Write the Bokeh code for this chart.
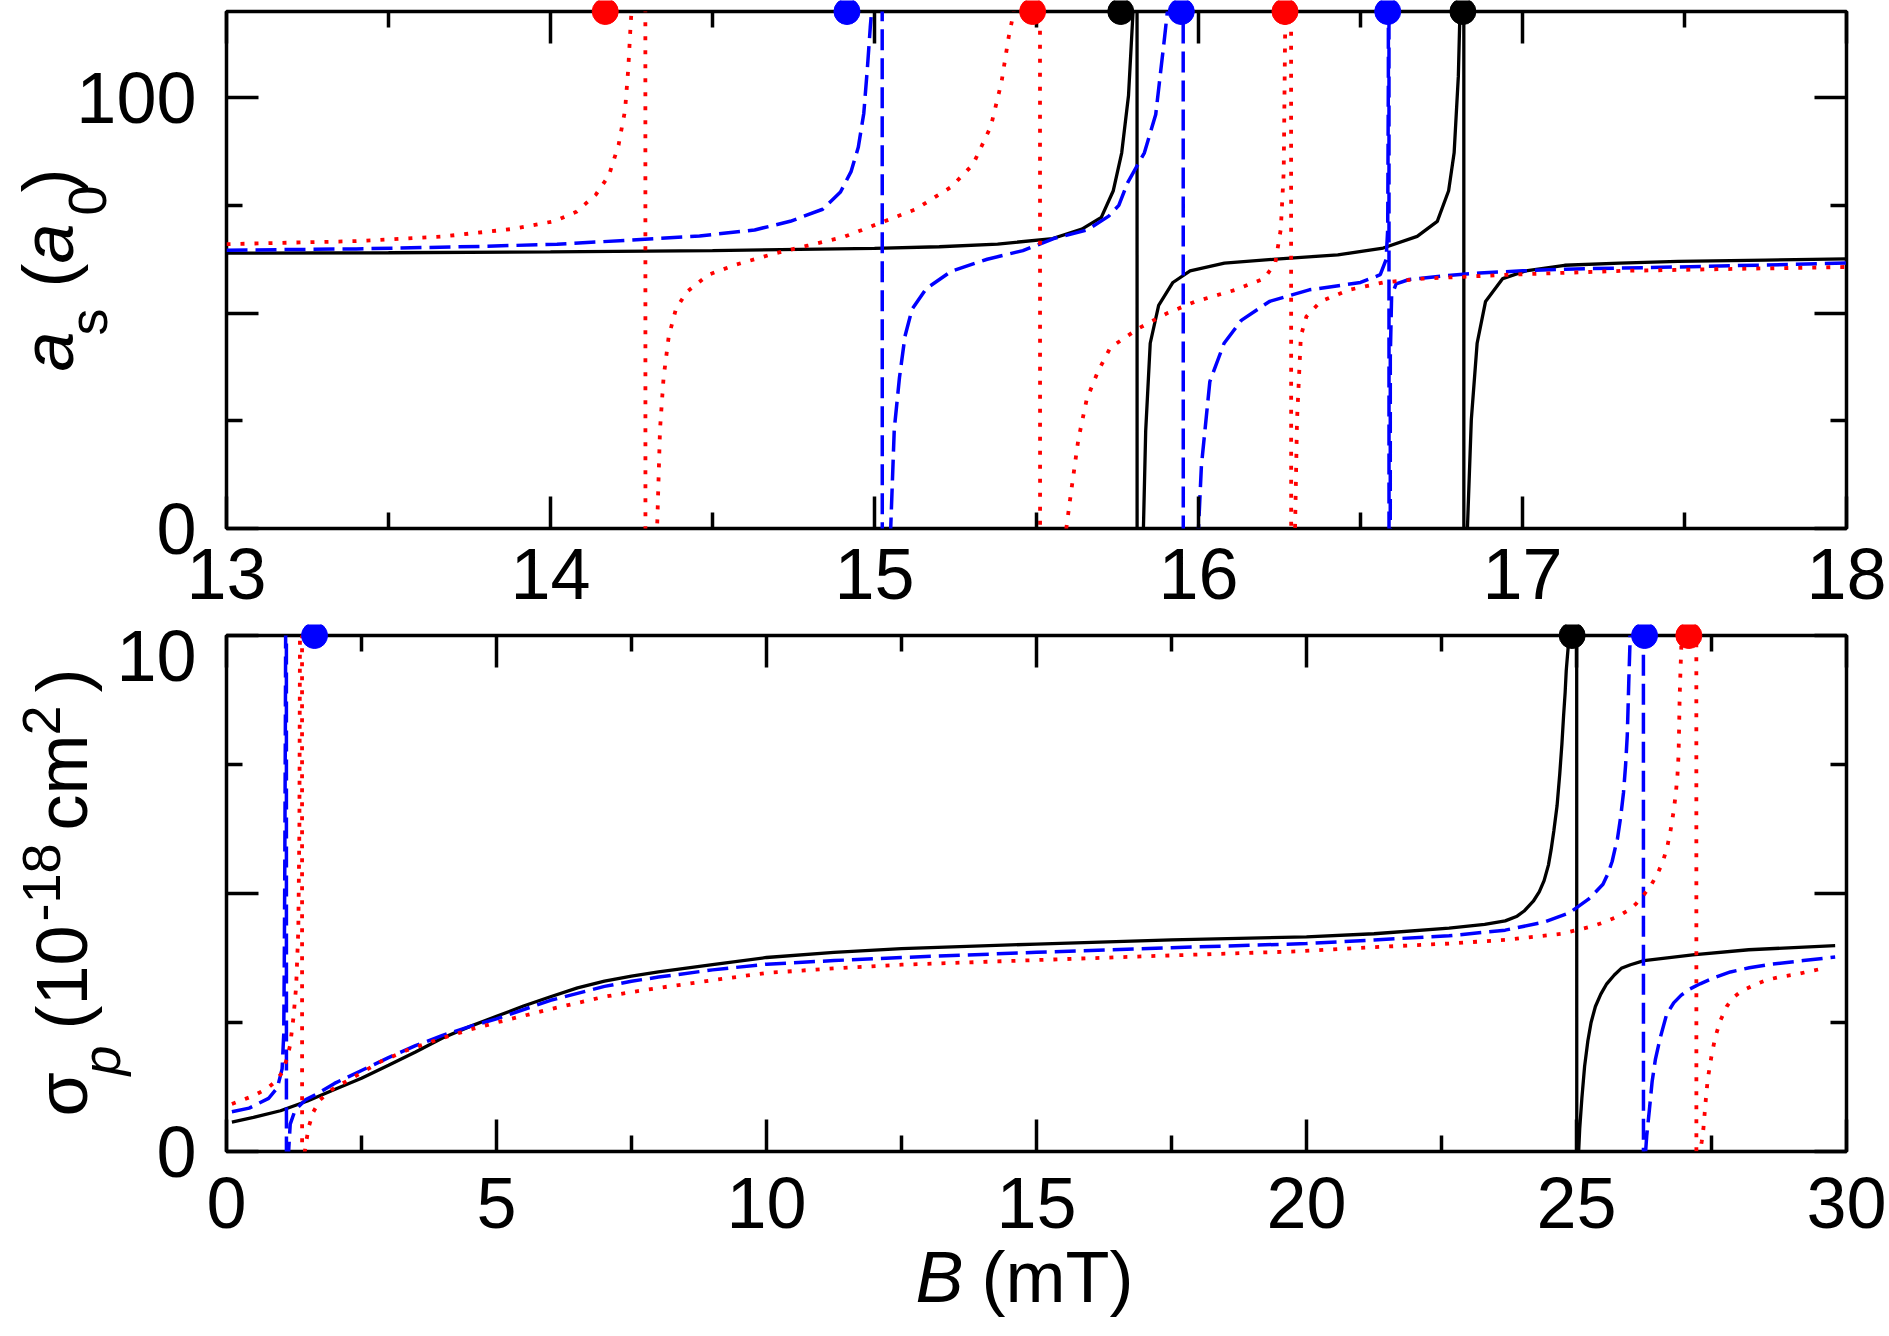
import math
import json
from bokeh.plotting import figure
from bokeh.models import FixedTicker, LinearAxis, Label, CustomJSTickFormatter, ColumnDataSource, GridBox
from bokeh.embed import file_html
from bokeh.resources import INLINE

# ---------------- data ----------------
# top panel: a_s (a0) versus B (mT); +-1000 marks the divergence at each resonance
top_black_B = [13.0, 13.5, 14.0, 14.5, 15.0, 15.2, 15.38, 15.55, 15.64, 15.70, 15.737, 15.763, 15.784, 15.798,
               15.809, 15.812, 15.83, 15.837, 15.851, 15.877, 15.921, 15.974, 16.08, 16.25, 16.43, 16.57, 16.675,
               16.737, 16.772, 16.789, 16.802, 16.807, 16.818, 16.820, 16.83, 16.842, 16.86, 16.886, 16.939, 17.01,
               17.13, 17.3, 17.48, 17.75, 18.0]
top_black_a = [63.9, 64.0, 64.2, 64.5, 65.0, 65.4, 66.0, 67.3, 69.5, 72.2, 78.4, 87.2, 100.5, 120.0,
               1000, -1000, 0.0, 22.6, 43.0, 51.8, 57.1, 59.8, 61.6, 62.6, 63.5, 65.1, 67.8,
               71.3, 78.4, 87.2, 105.0, 120.0, 1000, -1000, 0.0, 25.2, 43.0, 52.7, 58.0, 59.8,
               61.1, 61.6, 62.0, 62.3, 62.6]

top_blue_B = [13.0, 13.4, 13.8, 14.02, 14.24, 14.46, 14.63, 14.74, 14.84, 14.895, 14.928, 14.95, 14.967, 14.978,
              14.987, 14.991, 15.022, 15.026, 15.05, 15.061, 15.077, 15.094, 15.116, 15.16, 15.237, 15.348, 15.458,
              15.553, 15.657, 15.723, 15.754, 15.781, 15.833, 15.868, 15.895, 15.904, 15.951, 15.955, 16.0, 16.009,
              16.035, 16.079, 16.132, 16.219, 16.342, 16.5, 16.561, 16.579, 16.584, 16.586, 16.587, 16.589, 16.592,
              16.596, 16.61, 16.65, 16.75, 16.868, 17.0, 17.132, 17.482, 18.0]
top_blue_a = [64.6, 64.9, 65.5, 66.0, 66.9, 67.9, 69.3, 71.3, 74.1, 78.1, 82.9, 88.5, 96.4, 106.8,
              116.4, 120.0, 1000, -1000, 0.0, 23.0, 35.0, 44.6, 50.9, 55.7, 59.7, 62.5, 64.5,
              67.3, 69.3, 72.5, 75.0, 80.2, 87.2, 96.1, 113.8, 120.0, 1000, -1000, 0.0, 14.6,
              34.1, 43.0, 48.3, 52.7, 55.4, 57.1, 58.9, 62.4, 69.5, 105.0, 1000, -1000, 40.0,
              54.0, 56.8, 57.8, 58.6, 59.3, 59.8, 60.2, 60.7, 61.6]

top_red_B = [13.0, 13.4, 13.67, 13.88, 14.01, 14.08, 14.14, 14.18, 14.21, 14.23, 14.24, 14.247, 14.25, 14.291,
             14.295, 14.329, 14.338, 14.349, 14.365, 14.387, 14.42, 14.487, 14.575, 14.685, 14.796, 14.906, 15.017,
             15.127, 15.237, 15.304, 15.359, 15.392, 15.414, 15.43, 15.509, 15.513, 15.592, 15.605, 15.629, 15.655,
             15.69, 15.728, 15.816, 15.904, 15.991, 16.114, 16.202, 16.237, 16.254, 16.263, 16.266, 16.268, 16.284,
             16.288, 16.298, 16.304, 16.316, 16.333, 16.377, 16.465, 16.57, 16.693, 16.956, 17.307, 18.0]
top_red_a = [66.0, 66.7, 67.8, 69.5, 71.3, 73.5, 77.5, 81.9, 89.0, 97.0, 106.7, 116.5, 120.0, 1000,
             -1000, 0.0, 23.0, 35.0, 44.6, 50.9, 54.9, 58.9, 61.3, 63.7, 65.7, 67.7, 70.9,
             74.1, 79.3, 84.5, 93.3, 103.6, 114.0, 120.0, 1000, -1000, 0.0, 7.5, 20.6, 30.0,
             36.5, 42.0, 46.5, 50.0, 52.7, 55.4, 58.0, 61.6, 69.5, 82.8, 105.0, 120.0, 1000,
             -1000, 0.0, 25.0, 44.7, 49.2, 52.7, 55.4, 57.1, 58.0, 58.9, 59.8, 60.7]

top_dots_B = [14.169, 14.915, 15.488, 15.76, 15.947, 16.267, 16.584, 16.816]
top_dots_color = ["#ff0000", "#0000ff", "#ff0000", "#000000", "#0000ff", "#ff0000", "#0000ff", "#000000"]

# bottom panel: sigma_p (1e-18 cm^2) versus B (mT); +-100 marks the divergence
bot_black_B = [0.1, 0.5, 1.0, 1.5, 2.0, 2.5, 3.0, 3.5, 4.0, 4.5, 5.0, 5.5, 6.0, 6.5, 7.0, 7.5, 8.0, 9.0, 10.0,
               11.25, 12.5, 15.0, 17.5, 20.0, 21.25, 22.64, 23.3, 23.68, 23.9, 24.03, 24.2, 24.31, 24.4, 24.48,
               24.53, 24.58, 24.64, 24.69, 24.73, 24.76, 24.79, 24.81, 24.84, 24.86, 24.99, 25.02, 25.04, 25.06,
               25.1, 25.15, 25.21, 25.27, 25.35, 25.45, 25.56, 25.7, 25.83, 26.0, 26.25, 27.15, 28.19, 29.79]
bot_black_s = [0.57, 0.66, 0.79, 0.98, 1.2, 1.42, 1.67, 1.93, 2.2, 2.42, 2.62, 2.82, 3.0, 3.17, 3.3, 3.4, 3.48,
               3.62, 3.76, 3.86, 3.93, 4.02, 4.1, 4.16, 4.22, 4.33, 4.4, 4.47, 4.56, 4.66, 4.85, 5.03, 5.25, 5.55,
               5.85, 6.21, 6.7, 7.32, 7.9, 8.43, 8.9, 9.32, 9.7, 9.95, 100, -100, 0.0, 0.45,
               1.04, 1.65, 2.14, 2.5, 2.81, 3.05, 3.25, 3.42, 3.55, 3.62, 3.7, 3.81, 3.91, 3.99]

bot_blue_B = [0.1, 0.42, 0.78, 0.94, 1.03, 1.06, 1.07, 1.08, 1.09, 1.095, 1.10, 1.12, 1.15, 1.18, 1.27, 1.46,
              1.7, 2.0, 2.5, 3.0, 3.5, 4.0, 4.5, 5.0, 6.0, 7.0, 7.5, 8.0, 9.0, 10.0, 11.25, 12.5, 15.0, 17.5, 20.0,
              21.25, 22.64, 23.68, 24.38, 24.86, 25.21, 25.3, 25.49, 25.58, 25.66, 25.71, 25.76, 25.82, 25.87,
              25.91, 25.94, 25.955, 25.97, 25.99, 26.23, 26.25, 26.28, 26.3, 26.35, 26.4, 26.46, 26.55, 26.67,
              26.8, 26.94, 27.1, 27.29, 27.55, 27.85, 28.2, 28.54, 29.2, 29.79]
bot_blue_s = [0.77, 0.84, 1.03, 1.23, 1.6, 2.27, 3.6, 5.6, 8.27, 9.97, 100, -100, 0.0, 0.53, 0.8, 1.0,
              1.13, 1.32, 1.57, 1.82, 2.05, 2.25, 2.42, 2.57, 2.93, 3.2, 3.3, 3.38, 3.52, 3.63, 3.7, 3.76, 3.86,
              3.95, 4.03, 4.1, 4.18, 4.29, 4.44, 4.62, 4.88, 4.97, 5.18, 5.38, 5.62, 5.85, 6.07, 6.5, 6.95,
              7.5, 8.06, 8.6, 9.17, 9.84, 100, -100, 0.0, 0.3, 0.81, 1.35, 1.78, 2.2, 2.66,
              2.88, 3.03, 3.15, 3.25, 3.37, 3.48, 3.56, 3.62, 3.7, 3.77]

bot_red_B = [0.1, 0.5, 0.75, 0.9, 1.03, 1.12, 1.18, 1.24, 1.29, 1.33, 1.35, 1.36, 1.39, 1.41, 1.45, 1.52, 1.61,
             1.73, 1.95, 2.32, 2.87, 3.36, 4.0, 4.5, 5.0, 6.0, 7.0, 7.5, 8.0, 9.0, 10.0, 11.25, 12.5, 15.0, 17.5,
             19.86, 21.25, 22.64, 23.68, 24.72, 25.28, 25.5, 25.76, 26.0, 26.11, 26.25, 26.39, 26.5, 26.6, 26.68,
             26.74, 26.8, 26.84, 26.87, 26.89, 26.9, 26.91, 26.925, 26.94, 27.21, 27.23, 27.29, 27.32, 27.35,
             27.39, 27.43, 27.5, 27.57, 27.67, 27.78, 27.9, 28.06, 28.3, 28.54, 28.8, 29.1, 29.35, 29.58]
bot_red_s = [0.92, 1.08, 1.22, 1.35, 1.53, 1.8, 2.07, 2.6, 3.2, 4.3, 6.3, 9.9, 100, -100, 0.0, 0.47, 0.77,
             1.0, 1.2, 1.42, 1.75, 1.97, 2.2, 2.36, 2.5, 2.76, 3.0, 3.09, 3.17, 3.32, 3.46, 3.55, 3.62, 3.71, 3.8,
             3.88, 3.96, 4.03, 4.1, 4.22, 4.36, 4.44, 4.55, 4.7, 4.81, 4.98, 5.18, 5.38, 5.62, 5.9,
             6.21, 6.6, 6.95, 7.3, 7.69, 8.2, 8.8, 9.3, 9.76, 100, -100, 0.0, 0.2, 0.44,
             0.95, 1.4, 1.85, 2.22, 2.55, 2.81, 2.98, 3.11, 3.23, 3.33, 3.39, 3.44, 3.5, 3.55]

bot_dots_B = [1.63, 24.92, 26.26, 27.08]
bot_dots_color = ["#0000ff", "#000000", "#0000ff", "#ff0000"]

# axes / ticks
top_xticks = [13, 14, 15, 16, 17, 18]
top_xminor = [13.5, 14.5, 15.5, 16.5, 17.5]
top_yticks = [0, 50, 100]
top_yminor = [25, 75]
top_ylabels = {"0": "0", "100": "100"}
bot_xticks = [0, 5, 10, 15, 20, 25, 30]
bot_xminor = [2.5, 7.5, 12.5, 17.5, 22.5, 27.5]
bot_yticks = [0, 5, 10]
bot_yminor = [2.5, 7.5]
bot_ylabels = {"0": "0"}
bot_ytop_label = "10"      # drawn a little below its tick, as in the reference

# ---------------- layout (page pixels; bokeh page has no body margin) ----------------
FONT = "Liberation Sans"
TICK_FS = "72px"
LEFT, FW, RIGHT = 226, 1620, 42
W = LEFT + FW + RIGHT
P1_TOP, P1_FH, P1_BOT = 11, 517, 96
P2_TOP, P2_FH, P2_BOT = 11, 516, 180
H1 = P1_TOP + P1_FH + P1_BOT
H2 = P2_TOP + P2_FH + P2_BOT
X1R, Y1R = (13, 18), (0, 120)
X2R, Y2R = (0, 30), (0, 10)

BLACK, BLUE, RED = "#000000", "#0000ff", "#ff0000"


def make_fig(xr, yr, top, fh, bot):
    p = figure(x_range=xr, y_range=yr, frame_width=FW, frame_height=fh,
               min_border_left=LEFT, min_border_right=RIGHT, min_border_top=top, min_border_bottom=bot,
               output_backend="svg", toolbar_location=None, frame_align=False,
               background_fill_color="white", border_fill_color="white")
    p.grid.visible = False
    p.outline_line_color = "black"
    p.outline_line_width = 3.5
    p.outline_line_alpha = 1.0
    return p


def make_overlay(xr, yr, top, fh, bot):
    # transparent layer with the same data mapping as the panel, covering the whole canvas
    dx = (xr[1] - xr[0]) / FW
    dy = (yr[1] - yr[0]) / fh
    oxr = (xr[0] - LEFT * dx, xr[1] + RIGHT * dx)
    oyr = (yr[0] - bot * dy, yr[1] + top * dy)
    o = figure(x_range=oxr, y_range=oyr, frame_width=W, frame_height=top + fh + bot, min_border=0,
               x_axis_type=None, y_axis_type=None, output_backend="svg", toolbar_location=None,
               frame_align=False,
               background_fill_color=None, border_fill_color=None, outline_line_color=None)
    return o


def style_axis(ax, ticks, minor, show, standoff=0, labels=None):
    ax.ticker = FixedTicker(ticks=ticks, minor_ticks=minor)
    ax.axis_line_color = None
    ax.major_tick_in = 32
    ax.major_tick_out = 0
    ax.minor_tick_in = 16
    ax.minor_tick_out = 0
    ax.major_tick_line_width = 3.5
    ax.minor_tick_line_width = 3.5
    ax.major_tick_line_color = "black"
    ax.minor_tick_line_color = "black"
    if show:
        ax.major_label_text_font = FONT
        ax.major_label_text_font_size = TICK_FS
        ax.major_label_text_color = "black"
        ax.major_label_standoff = standoff
        if labels is not None:
            ax.formatter = CustomJSTickFormatter(
                code="const lab = %s; const k = String(tick); return (k in lab) ? lab[k] : '';" % json.dumps(labels))
    else:
        ax.formatter = CustomJSTickFormatter(code="return '';")
        ax.major_label_text_font_size = "0px"
        ax.major_label_standoff = 0


YSTAND = 30


def add_axes(p, xt, xm, yt, ym, ylabels, xstand):
    style_axis(p.xaxis[0], xt, xm, True, standoff=xstand)
    style_axis(p.yaxis[0], yt, ym, True, standoff=YSTAND, labels=ylabels)
    ta = LinearAxis()
    style_axis(ta, xt, xm, False)
    p.add_layout(ta, "above")
    ra = LinearAxis()
    style_axis(ra, yt, ym, False)
    p.add_layout(ra, "right")


def add_curves(p, bk, sk, bb, sb, br, sr):
    p.line(bk, sk, line_color=BLACK, line_width=3.3)
    p.line(bb, sb, line_color=BLUE, line_width=3.5, line_dash="21 8")
    p.line(br, sr, line_color=RED, line_width=3.8, line_dash="4 10")


# ---------------- top panel ----------------
p1 = make_fig(X1R, Y1R, P1_TOP, P1_FH, P1_BOT)
add_axes(p1, top_xticks, top_xminor, top_yticks, top_yminor, top_ylabels, 20)
add_curves(p1, top_black_B, top_black_a, top_blue_B, top_blue_a, top_red_B, top_red_a)
o1 = make_overlay(X1R, Y1R, P1_TOP, P1_FH, P1_BOT)
src1 = ColumnDataSource(dict(x=top_dots_B, y=[Y1R[1]] * len(top_dots_B), c=top_dots_color))
o1.scatter("x", "y", source=src1, size=26, fill_color="c", line_color="c")

# ---------------- bottom panel ----------------
p2 = make_fig(X2R, Y2R, P2_TOP, P2_FH, P2_BOT)
add_axes(p2, bot_xticks, bot_xminor, bot_yticks, bot_yminor, bot_ylabels, 26)
add_curves(p2, bot_black_B, bot_black_s, bot_blue_B, bot_blue_s, bot_red_B, bot_red_s)
o2 = make_overlay(X2R, Y2R, P2_TOP, P2_FH, P2_BOT)
src2 = ColumnDataSource(dict(x=bot_dots_B, y=[Y2R[1]] * len(bot_dots_B), c=bot_dots_color))
o2.scatter("x", "y", source=src2, size=26, fill_color="c", line_color="c")

# ---------------- axis titles (rich text assembled from pieces) ----------------
F1_BOTTOM = P1_TOP + P1_FH
F2_BOTTOM = H1 + P2_TOP + P2_FH


def conv1(px, py):
    return (X1R[0] + (px - LEFT) / FW * (X1R[1] - X1R[0]),
            Y1R[0] + (F1_BOTTOM - py) / P1_FH * (Y1R[1] - Y1R[0]))


def conv2(px, py):
    return (X2R[0] + (px - LEFT) / FW * (X2R[1] - X2R[0]),
            Y2R[0] + (F2_BOTTOM - py) / P2_FH * (Y2R[1] - Y2R[0]))


BASE_SHIFT = 0.48   # bokeh places the "alphabetic" anchor this far (in em) below the glyph baseline


def put(o, conv, text, px, py, size, style, angle):
    # (px, py): page position of the start of the glyph baseline
    if angle:
        px = px - BASE_SHIFT * size
    else:
        py = py - BASE_SHIFT * size
    x, y = conv(px, py)
    o.add_layout(Label(x=x, y=y, x_units="data", y_units="data", text=text, angle=angle,
                       text_font=FONT, text_font_size="%dpx" % size, text_font_style=style,
                       text_color="black", text_align="left", text_baseline="alphabetic"))


up = math.pi / 2
for text, px, py, size, style in [("a", 82, 371, 72, "italic"), ("s", 113, 335, 54, "normal"),
                                  ("(", 82, 287, 72, "normal"), ("a", 82, 263, 72, "italic"),
                                  ("0", 113, 215, 54, "normal"), (")", 82, 192, 72, "normal")]:
    put(o1, conv1, text, px, py, size, style, up)

for text, px, py, size, style in [("σ", 96, 1116, 72, "normal"), ("p", 126, 1075, 54, "italic"),
                                  ("(10", 96, 1029, 72, "normal"), ("-18", 67, 921, 54, "normal"),
                                  ("cm", 96, 830, 72, "normal"), ("2", 67, 735, 54, "normal"),
                                  (")", 96, 692, 72, "normal")]:
    put(o2, conv2, text, px, py, size, style, up)

put(o2, conv2, "B", 915, 1311, 72, "italic", 0)
put(o2, conv2, "(mT)", 981, 1311, 72, "normal", 0)

# y tick label "10" of the lower panel, right-aligned like the axis labels
lx, ly = conv2(LEFT - YSTAND, 655)
o2.add_layout(Label(x=lx, y=ly, x_units="data", y_units="data", text=bot_ytop_label,
                    text_font=FONT, text_font_size=TICK_FS, text_color="black",
                    text_align="right", text_baseline="middle"))

grid = GridBox(children=[(p1, 0, 0), (o1, 0, 0), (p2, 1, 0), (o2, 1, 0)])
open("out.html", "w").write(file_html(grid, INLINE))
